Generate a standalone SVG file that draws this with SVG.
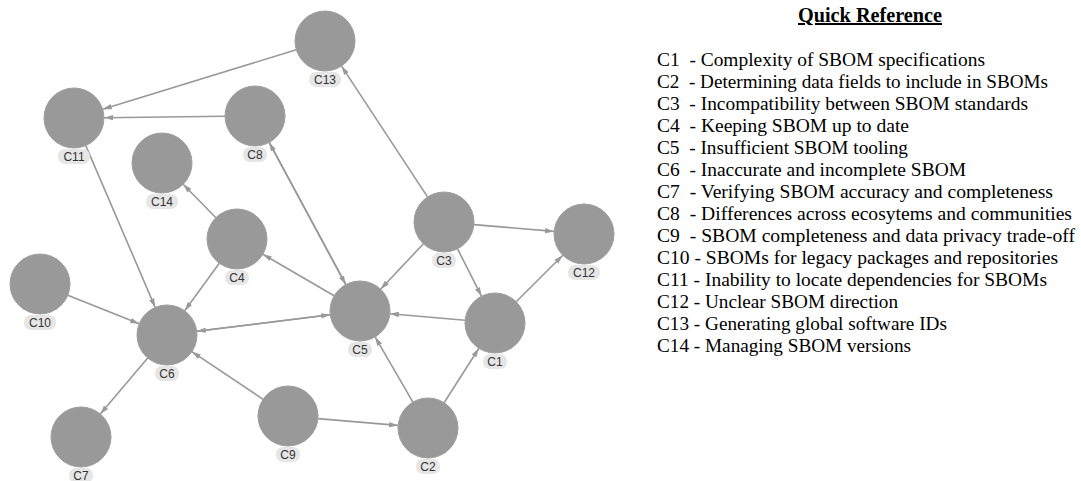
<svg xmlns="http://www.w3.org/2000/svg" width="1081" height="481" viewBox="0 0 1081 481">
<style>
.node circle{fill:#999999;stroke:#9e9e9e;stroke-width:1}
.node rect{fill:#e6e6e6}
.node text{font-family:"Liberation Sans",Arial,sans-serif;font-size:12px;fill:#333;text-anchor:middle}
.edges line{stroke:#999999;stroke-width:1.6;marker-end:url(#arr)}
.ref{font-family:"Liberation Serif","Times New Roman",serif;font-size:19px;fill:#000}
.title{font-family:"Liberation Serif","Times New Roman",serif;font-size:20px;font-weight:bold;text-decoration:underline;text-anchor:middle}
</style>
<defs>
<marker id="arr" markerUnits="userSpaceOnUse" markerWidth="10" markerHeight="8" viewBox="0 0 10 8" refX="9" refY="4" orient="auto">
<path d="M0,1.3 L9,4 L0,6.7 z" fill="#999999"/>
</marker>
</defs>
<rect width="1081" height="481" fill="#ffffff"/>
<g class="edges" id="connectors">
<line x1="296.3" y1="49.8" x2="102.7" y2="109.2"/>
<line x1="225" y1="116.3" x2="104" y2="117.7"/>
<line x1="85.8" y1="145.6" x2="155.2" y2="307.4"/>
<line x1="215.9" y1="217.7" x2="183.1" y2="184.3"/>
<line x1="345.8" y1="284.6" x2="269.2" y2="142.4"/>
<line x1="269.2" y1="142.4" x2="345.8" y2="284.6"/>
<line x1="427.5" y1="196.9" x2="341.5" y2="66.1"/>
<line x1="219.3" y1="263.2" x2="184.7" y2="310.8"/>
<line x1="334.1" y1="295.8" x2="262.9" y2="254.2"/>
<line x1="67.8" y1="295.2" x2="139.2" y2="323.8"/>
<line x1="196.8" y1="331.3" x2="330.2" y2="314.7"/>
<line x1="330.2" y1="314.7" x2="196.8" y2="331.3"/>
<line x1="147.7" y1="357.9" x2="100.3" y2="414.1"/>
<line x1="263.1" y1="399.3" x2="191.9" y2="351.7"/>
<line x1="317.9" y1="418.6" x2="398.1" y2="425.4"/>
<line x1="412.9" y1="402.1" x2="375.1" y2="336.9"/>
<line x1="444.1" y1="402.7" x2="478.9" y2="348.3"/>
<line x1="465.1" y1="320.3" x2="389.9" y2="313.7"/>
<line x1="516.2" y1="301.8" x2="562.8" y2="255.2"/>
<line x1="473.9" y1="224.6" x2="554.1" y2="231.4"/>
<line x1="457.5" y1="248.8" x2="481.5" y2="296.2"/>
<line x1="423.4" y1="243.8" x2="380.6" y2="289.2"/>
</g>
<g class="node" id="C1"><circle cx="495" cy="323" r="30"/><rect x="483" y="354" width="24" height="15" rx="7"/><text x="495" y="365.5">C1</text></g>
<g class="node" id="C2"><circle cx="428" cy="428" r="30"/><rect x="416" y="459" width="24" height="15" rx="7"/><text x="428" y="470.5">C2</text></g>
<g class="node" id="C3"><circle cx="444" cy="222" r="30"/><rect x="432" y="253" width="24" height="15" rx="7"/><text x="444" y="264.5">C3</text></g>
<g class="node" id="C4"><circle cx="237" cy="239" r="30"/><rect x="225" y="270" width="24" height="15" rx="7"/><text x="237" y="281.5">C4</text></g>
<g class="node" id="C5"><circle cx="360" cy="311" r="30"/><rect x="348" y="342" width="24" height="15" rx="7"/><text x="360" y="353.5">C5</text></g>
<g class="node" id="C6"><circle cx="167" cy="335" r="30"/><rect x="155" y="366" width="24" height="15" rx="7"/><text x="167" y="377.5">C6</text></g>
<g class="node" id="C7"><circle cx="81" cy="437" r="30"/><rect x="69" y="468" width="24" height="15" rx="7"/><text x="81" y="479.5">C7</text></g>
<g class="node" id="C8"><circle cx="255" cy="116" r="30"/><rect x="243" y="147" width="24" height="15" rx="7"/><text x="255" y="158.5">C8</text></g>
<g class="node" id="C9"><circle cx="288" cy="416" r="30"/><rect x="276" y="447" width="24" height="15" rx="7"/><text x="288" y="458.5">C9</text></g>
<g class="node" id="C10"><circle cx="40" cy="284" r="30"/><rect x="24" y="315" width="32" height="15" rx="7"/><text x="40" y="326.5">C10</text></g>
<g class="node" id="C11"><circle cx="74" cy="118" r="30"/><rect x="58" y="149" width="32" height="15" rx="7"/><text x="74" y="160.5">C11</text></g>
<g class="node" id="C12"><circle cx="584" cy="234" r="30"/><rect x="568" y="265" width="32" height="15" rx="7"/><text x="584" y="276.5">C12</text></g>
<g class="node" id="C13"><circle cx="325" cy="41" r="30"/><rect x="309" y="72" width="32" height="15" rx="7"/><text x="325" y="83.5">C13</text></g>
<g class="node" id="C14"><circle cx="162" cy="163" r="30"/><rect x="146" y="194" width="32" height="15" rx="7"/><text x="162" y="205.5">C14</text></g>
<g id="quick-reference">
<text class="title" x="870" y="22" textLength="144" lengthAdjust="spacingAndGlyphs">Quick Reference</text>
<text class="ref" x="657" y="66" xml:space="preserve" textLength="328" lengthAdjust="spacingAndGlyphs">C1  - Complexity of SBOM specifications</text>
<text class="ref" x="657" y="88" xml:space="preserve" textLength="391" lengthAdjust="spacingAndGlyphs">C2  - Determining data fields to include in SBOMs</text>
<text class="ref" x="657" y="110" xml:space="preserve" textLength="371" lengthAdjust="spacingAndGlyphs">C3  - Incompatibility between SBOM standards</text>
<text class="ref" x="657" y="132" xml:space="preserve" textLength="252" lengthAdjust="spacingAndGlyphs">C4  - Keeping SBOM up to date</text>
<text class="ref" x="657" y="154" xml:space="preserve" textLength="251" lengthAdjust="spacingAndGlyphs">C5  - Insufficient SBOM tooling</text>
<text class="ref" x="657" y="176" xml:space="preserve" textLength="309" lengthAdjust="spacingAndGlyphs">C6  - Inaccurate and incomplete SBOM</text>
<text class="ref" x="657" y="198" xml:space="preserve" textLength="396" lengthAdjust="spacingAndGlyphs">C7  - Verifying SBOM accuracy and completeness</text>
<text class="ref" x="657" y="220" xml:space="preserve" textLength="415" lengthAdjust="spacingAndGlyphs">C8  - Differences across ecosytems and communities</text>
<text class="ref" x="657" y="242" xml:space="preserve" textLength="418" lengthAdjust="spacingAndGlyphs">C9  - SBOM completeness and data privacy trade-off</text>
<text class="ref" x="657" y="264" xml:space="preserve" textLength="401" lengthAdjust="spacingAndGlyphs">C10 - SBOMs for legacy packages and repositories</text>
<text class="ref" x="657" y="286" xml:space="preserve" textLength="390" lengthAdjust="spacingAndGlyphs">C11 - Inability to locate dependencies for SBOMs</text>
<text class="ref" x="657" y="308" xml:space="preserve" textLength="241" lengthAdjust="spacingAndGlyphs">C12 - Unclear SBOM direction</text>
<text class="ref" x="657" y="330" xml:space="preserve" textLength="290" lengthAdjust="spacingAndGlyphs">C13 - Generating global software IDs</text>
<text class="ref" x="657" y="352" xml:space="preserve" textLength="254" lengthAdjust="spacingAndGlyphs">C14 - Managing SBOM versions</text>
</g>
</svg>
